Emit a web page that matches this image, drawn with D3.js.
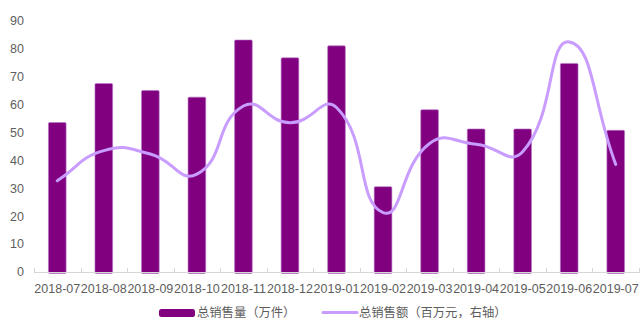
<!DOCTYPE html>
<html><head><meta charset="utf-8">
<script src="https://cdn.jsdelivr.net/npm/d3@7/dist/d3.min.js"></script>
<style>html,body{margin:0;padding:0;background:#fff;}svg{display:block;}</style>
</head><body>
<svg id="c" width="640" height="323"></svg>
<script>
const categories = ["2018-07","2018-08","2018-09","2018-10","2018-11","2018-12","2019-01","2019-02","2019-03","2019-04","2019-05","2019-06","2019-07"];
const salesVolume = [53.6, 67.6, 65.1, 62.7, 83.2, 76.8, 81.1, 30.6, 58.2, 51.3, 51.3, 74.8, 50.8];
const salesAmount = [32.7, 43.5, 42.3, 35.1, 59.5, 53.5, 59.0, 21.3, 46.1, 45.8, 43.1, 82.5, 38.6];
const yTicks = [0,10,20,30,40,50,60,70,80,90];
const legendNames = ["总销售量（万件）", "总销售额（百万元，右轴）"];

(function () {
const barColor = "#800080", lineColor = "#c99cff", textColor = "#5e5e5e", axisColor = "#d6d6d6";
const svg = d3.select("#c");
const pLeft = 34, pRight = 639, pTop = 21, pBottom = 272;

const x = d3.scaleBand().domain(categories).range([pLeft, pRight]).padding(0);
const y = d3.scaleLinear().domain([0, 90]).range([pBottom, pTop]);
const y2 = d3.scaleLinear().domain([0, 90]).range([pBottom, pTop]);
const bw = x.bandwidth() * 0.38;
const font = "'Liberation Sans', Arial, 'Noto Sans CJK SC', sans-serif";
const cjkFont = "'Noto Sans CJK KR', 'Noto Sans CJK SC', sans-serif";

svg.append("g").selectAll("text").data(yTicks).join("text")
  .attr("x", 24).attr("y", d => y(d)).attr("dy", "0.35em")
  .attr("text-anchor", "end").attr("font-family", font).attr("font-size", 12.5)
  .attr("fill", textColor).text(d => d);

svg.append("g").selectAll("rect").data(categories).join("rect")
  .attr("x", d => x(d) + (x.bandwidth() - bw) / 2)
  .attr("y", (d, i) => y(salesVolume[i]))
  .attr("width", bw)
  .attr("height", (d, i) => y(0) - y(salesVolume[i]) + 1.5)
  .attr("rx", 1.2)
  .attr("fill", barColor)
  .attr("stroke", "#b978c9").attr("stroke-width", 0.6);

const ax = svg.append("g");
ax.append("line").attr("x1", pLeft).attr("x2", pRight).attr("y1", pBottom + 0.5).attr("y2", pBottom + 0.5)
  .attr("stroke", axisColor).attr("stroke-width", 1);
const tickPos = categories.map(c => x(c)).concat([pRight]);
ax.selectAll("line.t").data(tickPos).join("line").attr("class", "t")
  .attr("x1", d => Math.round(d) + 0.5).attr("x2", d => Math.round(d) + 0.5)
  .attr("y1", pBottom - 4).attr("y2", pBottom + 1)
  .attr("stroke", axisColor).attr("stroke-width", 1);

svg.append("g").selectAll("text").data(categories).join("text")
  .attr("x", d => x(d) + x.bandwidth() / 2).attr("y", 289).attr("dy", "0.35em")
  .attr("text-anchor", "middle").attr("font-family", font).attr("font-size", 12.5)
  .attr("fill", textColor).text(d => d);

function SmoothCurve(context) { this._context = context; }
SmoothCurve.prototype = {
  areaStart() {}, areaEnd() {},
  lineStart() { this._p = []; },
  point(px, py) { this._p.push([+px, +py]); },
  lineEnd() {
    const p = this._p, n = p.length, ctx = this._context, s = 0.5;
    if (!n) return;
    const cps = p.map((pt, i) => {
      const prev = p[Math.max(0, i - 1)], next = p[Math.min(n - 1, i + 1)];
      const vx = next[0] - prev[0], vy = next[1] - prev[1];
      const d0 = Math.hypot(pt[0] - prev[0], pt[1] - prev[1]);
      const d1 = Math.hypot(next[0] - pt[0], next[1] - pt[1]);
      const r = (d0 + d1) ? d1 / (d0 + d1) : 0.5;
      return {
        cin: [pt[0] - vx * s * (1 - r), pt[1] - vy * s * (1 - r)],
        cout: [pt[0] + vx * s * r, pt[1] + vy * s * r]
      };
    });
    ctx.moveTo(p[0][0], p[0][1]);
    for (let i = 0; i < n - 1; i++) {
      ctx.bezierCurveTo(cps[i].cout[0], cps[i].cout[1], cps[i + 1].cin[0], cps[i + 1].cin[1], p[i + 1][0], p[i + 1][1]);
    }
  }
};
const smooth = ctx => new SmoothCurve(ctx);

const line = d3.line()
  .x((d, i) => x(categories[i]) + x.bandwidth() / 2)
  .y(d => y2(d))
  .curve(smooth);
svg.append("path").datum(salesAmount).attr("d", line)
  .attr("fill", "none").attr("stroke", lineColor).attr("stroke-width", 3)
  .attr("stroke-linecap", "round").attr("stroke-linejoin", "round");

const lg = svg.append("g");
const ly = 313;
lg.append("rect").attr("x", 159).attr("y", ly - 4).attr("width", 36).attr("height", 8).attr("rx", 2.5)
  .attr("fill", barColor);
lg.append("text").attr("x", 197).attr("y", ly).attr("dy", "0.35em")
  .attr("font-family", cjkFont).attr("font-size", 12.3)
  .attr("fill", textColor).text(legendNames[0]);
lg.append("line").attr("x1", 323).attr("x2", 357).attr("y1", ly - 0.5).attr("y2", ly - 0.5)
  .attr("stroke", lineColor).attr("stroke-width", 3).attr("stroke-linecap", "round");
lg.append("text").attr("x", 359).attr("y", ly).attr("dy", "0.35em")
  .attr("font-family", cjkFont).attr("font-size", 12.3)
  .attr("fill", textColor).text(legendNames[1]);
})();
</script>
</body></html>
